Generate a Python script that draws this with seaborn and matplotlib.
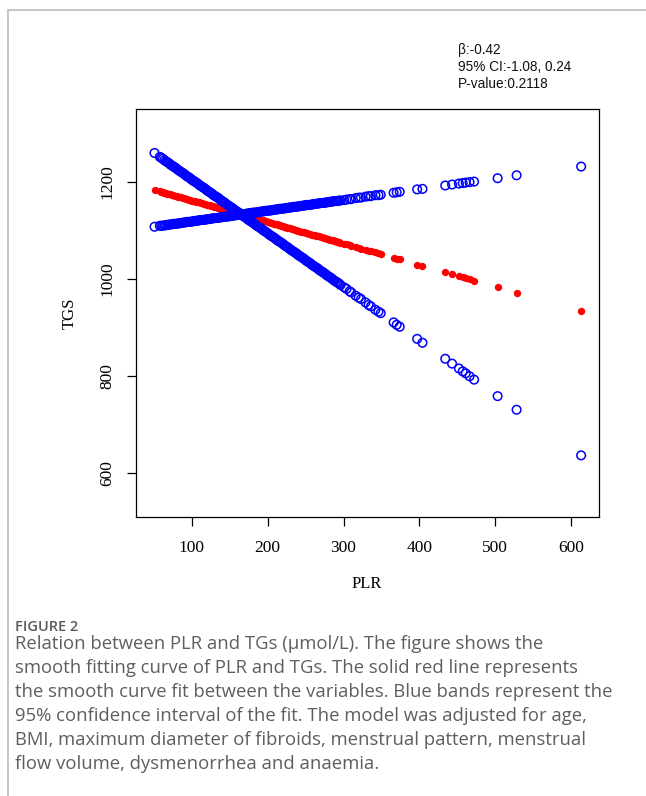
import matplotlib
matplotlib.use("Agg")
import matplotlib.pyplot as plt
import pandas as pd
import seaborn as sns
from matplotlib.lines import Line2D

# ---------------------------------------------------------------------------
# Data (PLR on x, TGs fit and the two 95% CI curves on y)
# ---------------------------------------------------------------------------
plr = [
    51, 58,
    60, 62, 64, 66, 68, 70, 72, 74, 76, 78,
    80, 82, 84, 86, 88, 90, 92, 94, 96, 98,
    100, 102, 104, 106, 108, 110, 112, 114, 116, 118,
    120, 122, 124, 126, 128, 130, 132, 134, 136, 138,
    140, 142, 144, 146, 148, 150, 152, 154, 156, 158,
    160, 162, 164, 166, 168, 170, 172, 174, 176, 178,
    180, 182, 184, 186, 188, 190, 192, 194, 196, 198,
    200, 202, 204, 206, 208, 210, 212, 214, 216, 218,
    220, 222, 224, 226, 228, 230, 232, 234, 236, 238,
    240, 242, 244, 246, 248, 250, 252, 254, 256, 258,
    260, 262, 264, 266, 268, 270, 272, 274, 276, 278,
    280, 282, 284, 286, 288, 290, 292, 294, 296,
    301, 304, 308, 310, 316, 320, 323, 329, 333, 336, 342, 346, 349,
    366, 370, 374, 397, 404,
    434, 443, 452, 457, 461, 466, 472,
    503, 528, 613,
]

tgs_fit = [
    1184, 1181,
    1180, 1179, 1178, 1177, 1176, 1176, 1175, 1174, 1173, 1172,
    1171, 1170, 1169, 1169, 1168, 1167, 1166, 1165, 1164, 1163,
    1162, 1161, 1161, 1160, 1159, 1158, 1157, 1156, 1155, 1154,
    1153, 1153, 1152, 1151, 1150, 1149, 1148, 1147, 1146, 1145,
    1145, 1144, 1143, 1142, 1141, 1140, 1139, 1138, 1137, 1137,
    1136, 1135, 1134, 1133, 1132, 1131, 1130, 1129, 1129, 1128,
    1127, 1126, 1125, 1124, 1123, 1122, 1121, 1121, 1120, 1119,
    1118, 1117, 1116, 1115, 1114, 1113, 1113, 1112, 1111, 1110,
    1109, 1108, 1107, 1106, 1105, 1105, 1104, 1103, 1102, 1101,
    1100, 1099, 1098, 1097, 1097, 1096, 1095, 1094, 1093, 1092,
    1091, 1090, 1089, 1089, 1088, 1087, 1086, 1085, 1084, 1083,
    1082, 1081, 1081, 1080, 1079, 1078, 1077, 1076, 1075,
    1073, 1072, 1070, 1069, 1066, 1065, 1063, 1061, 1059, 1058, 1055, 1053, 1052,
    1044, 1042, 1041, 1030, 1027,
    1014, 1010, 1006, 1004, 1002, 1000, 997,
    983, 972, 935,
]

# CI curve that rises with PLR
ci_rising = [
    1108, 1110,
    1110, 1110, 1111, 1111, 1112, 1112, 1113, 1113, 1114, 1114,
    1114, 1115, 1115, 1116, 1116, 1117, 1117, 1118, 1118, 1118,
    1119, 1119, 1120, 1120, 1121, 1121, 1122, 1122, 1122, 1123,
    1123, 1124, 1124, 1125, 1125, 1126, 1126, 1126, 1127, 1127,
    1128, 1128, 1129, 1129, 1129, 1130, 1130, 1131, 1131, 1132,
    1132, 1133, 1133, 1133, 1134, 1134, 1135, 1135, 1136, 1136,
    1137, 1137, 1137, 1138, 1138, 1139, 1139, 1140, 1140, 1141,
    1141, 1141, 1142, 1142, 1143, 1143, 1144, 1144, 1145, 1145,
    1145, 1146, 1146, 1147, 1147, 1148, 1148, 1149, 1149, 1149,
    1150, 1150, 1151, 1151, 1152, 1152, 1153, 1153, 1153, 1154,
    1154, 1155, 1155, 1156, 1156, 1157, 1157, 1157, 1158, 1158,
    1159, 1159, 1160, 1160, 1161, 1161, 1161, 1162, 1162,
    1163, 1164, 1165, 1165, 1167, 1168, 1168, 1170, 1171, 1171, 1173, 1173, 1174,
    1178, 1179, 1180, 1185, 1186,
    1193, 1195, 1197, 1198, 1199, 1200, 1201,
    1208, 1214, 1232,
]

# CI curve that falls with PLR
ci_falling = [
    1260, 1252,
    1250, 1248, 1245, 1243, 1241, 1239, 1236, 1234, 1232, 1230,
    1228, 1225, 1223, 1221, 1219, 1217, 1214, 1212, 1210, 1208,
    1205, 1203, 1201, 1199, 1197, 1194, 1192, 1190, 1188, 1186,
    1183, 1181, 1179, 1177, 1174, 1172, 1170, 1168, 1166, 1163,
    1161, 1159, 1157, 1154, 1152, 1150, 1148, 1146, 1143, 1141,
    1139, 1137, 1135, 1132, 1130, 1128, 1126, 1123, 1121, 1119,
    1117, 1115, 1112, 1110, 1108, 1106, 1104, 1101, 1099, 1097,
    1095, 1092, 1090, 1088, 1086, 1084, 1081, 1079, 1077, 1075,
    1073, 1070, 1068, 1066, 1064, 1061, 1059, 1057, 1055, 1053,
    1050, 1048, 1046, 1044, 1042, 1039, 1037, 1035, 1033, 1030,
    1028, 1026, 1024, 1022, 1019, 1017, 1015, 1013, 1011, 1008,
    1006, 1004, 1002, 999, 997, 995, 993, 991, 988,
    983, 980, 975, 973, 966, 962, 959, 952, 947, 944, 937, 933, 930,
    911, 906, 902, 877, 869,
    836, 826, 816, 810, 806, 800, 793,
    759, 731, 637,
]

x_ticks = [100, 200, 300, 400, 500, 600]
y_ticks = [600, 800, 1000, 1200]

stats_lines = ["β:-0.42", "95% CI:-1.08, 0.24", "P-value:0.2118"]

caption_title = "FIGURE 2"
caption_lines = [
    "Relation between PLR and TGs (μmol/L). The figure shows the",
    "smooth fitting curve of PLR and TGs. The solid red line represents",
    "the smooth curve fit between the variables. Blue bands represent the",
    "95% confidence interval of the fit. The model was adjusted for age,",
    "BMI, maximum diameter of fibroids, menstrual pattern, menstrual",
    "flow volume, dysmenorrhea and anaemia.",
]

df = pd.DataFrame(
    {"PLR": plr, "fit": tgs_fit, "ci_rising": ci_rising, "ci_falling": ci_falling}
)

# ---------------------------------------------------------------------------
# Plot
# ---------------------------------------------------------------------------
sns.set_theme(style="ticks")
plt.rcParams["font.family"] = ["Liberation Serif", "DejaVu Serif"]

fig = plt.figure(figsize=(6.46, 7.96), dpi=100)
ax = fig.add_axes([0.2098, 0.3505, 0.7168, 0.5122])

# red fitted curve (filled dots), then the blue CI curves (open circles) on top
sns.scatterplot(data=df, x="PLR", y="fit", ax=ax, color="#ff0000",
                s=28, linewidth=0, marker="o")
for col in ["ci_rising", "ci_falling"]:
    sns.scatterplot(data=df, x="PLR", y=col, ax=ax, marker="o", s=38,
                    facecolor="none", edgecolor="#0000ff", linewidth=1.1)

ax.set_xlim(26, 636)
ax.set_ylim(510, 1350)
ax.set_xticks(x_ticks)
ax.set_yticks(y_ticks)
ax.tick_params(direction="out", length=6.5, width=0.9, color="black",
               labelsize=12.5, labelcolor="black")
ax.tick_params(axis="x", pad=10)
ax.tick_params(axis="y", pad=8)
for lab in ax.get_yticklabels():
    lab.set_rotation(90)
    lab.set_va("center")
for side in ["left", "right", "top", "bottom"]:
    ax.spines[side].set_color("black")
    ax.spines[side].set_linewidth(0.9)

ax.set_xlabel("PLR", fontsize=12, color="black")
ax.set_ylabel("TGS", fontsize=12, color="black")
ax.xaxis.set_label_coords(0.5, -0.165)
ax.xaxis.label.set_va("center")
ax.yaxis.set_label_coords(-0.143, 0.5)
ax.yaxis.label.set_va("center")

# statistics text above the plot
for i, line in enumerate(stats_lines):
    fig.text(458 / 646, 1 - (50 + 17 * i) / 796, line, ha="left", va="center",
             fontsize=9.8, family=["Liberation Sans", "DejaVu Sans"], color="#111111")

# page frame lines
fig.add_artist(Line2D([8 / 646, 1], [1 - 10 / 796] * 2, transform=fig.transFigure,
                      color="#bdbdbd", lw=1.2))
fig.add_artist(Line2D([8 / 646] * 2, [0, 1 - 10 / 796], transform=fig.transFigure,
                      color="#bdbdbd", lw=1.2))

# caption
fig.text(15 / 646, 1 - 627 / 796, caption_title, ha="left", va="center",
         fontsize=10.5, fontweight="semibold", family=["Open Sans", "DejaVu Sans"],
         color="#5a5a5a")
for i, line in enumerate(caption_lines):
    fig.text(15 / 646, 1 - (644 + 24 * i) / 796, line, ha="left", va="center",
             fontsize=13.3, family=["Open Sans", "DejaVu Sans"], color="#5e5e5e")

fig.savefig("out.png", dpi=100)
